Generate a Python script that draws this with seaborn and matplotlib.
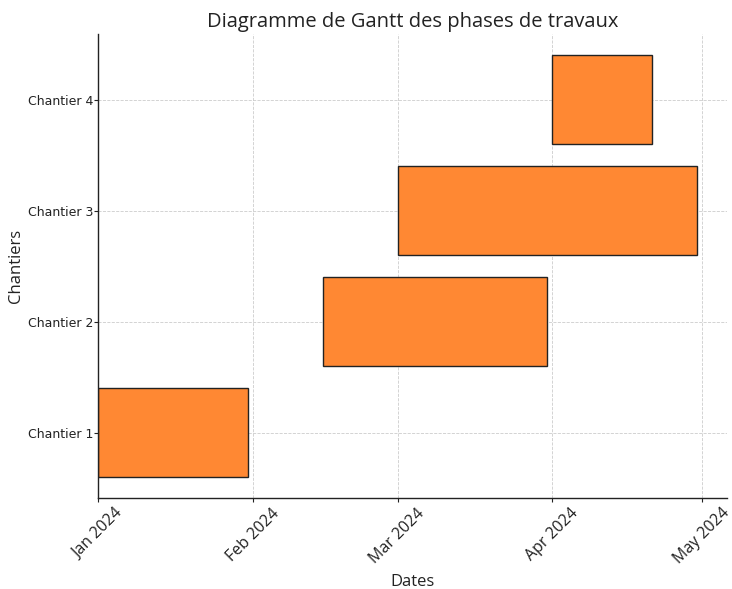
import matplotlib
matplotlib.use("Agg")
import matplotlib.pyplot as plt
import matplotlib.dates as mdates
import seaborn as sns
import pandas as pd

chantiers = ["Chantier 1", "Chantier 2", "Chantier 3", "Chantier 4"]
starts = ["2024-01-01", "2024-02-15", "2024-03-01", "2024-04-01"]
ends = ["2024-01-31", "2024-03-31", "2024-04-30", "2024-04-21"]

df = pd.DataFrame({"Chantier": chantiers,
                   "Début": pd.to_datetime(starts),
                   "Fin": pd.to_datetime(ends)})
df["Durée"] = df["Fin"] - df["Début"]

sns.set_theme(style="whitegrid")
plt.rcParams["font.family"] = ["DejaVu Sans"]

fig, ax = plt.subplots(figsize=(7.32, 5.89), dpi=100)
fig.subplots_adjust(left=0.134, right=0.993, top=0.942, bottom=0.154)

ax.barh(df["Chantier"], df["Durée"], left=df["Début"], height=0.8,
        color="#FF8833", edgecolor="#222222", linewidth=1.0)

ax.xaxis.set_major_locator(mdates.MonthLocator())
ax.xaxis.set_major_formatter(mdates.DateFormatter("%b %Y"))
for lab in ax.get_xticklabels():
    lab.set_rotation(45)
    lab.set_ha("center")
    lab.set_fontfamily("Open Sans")
    lab.set_fontsize(11.5)
    lab.set_color("#222222")
for lab in ax.get_yticklabels():
    lab.set_fontsize(9)
    lab.set_color("#222222")

ax.grid(True, linestyle="--", linewidth=0.6, color="#cccccc")
ax.set_facecolor("white")
for s in ["top", "right"]:
    ax.spines[s].set_visible(False)
for s in ["left", "bottom"]:
    ax.spines[s].set_color("#222222")
    ax.spines[s].set_linewidth(1.0)
ax.tick_params(axis="both", length=3, width=0.8, color="#222222", bottom=True, left=True)
ax.tick_params(axis="y", pad=0.5)
ax.tick_params(axis="x", pad=2)

ax.set_title("Diagramme de Gantt des phases de travaux", fontfamily="Open Sans",
             fontsize=14.5, color="#222222", pad=5)
ax.set_xlabel("Dates", fontfamily="Open Sans", fontsize=12, color="#222222", labelpad=5)
ax.set_ylabel("Chantiers", fontfamily="Open Sans", fontsize=12, color="#222222", labelpad=3)

fig.savefig("out.png", dpi=100)
